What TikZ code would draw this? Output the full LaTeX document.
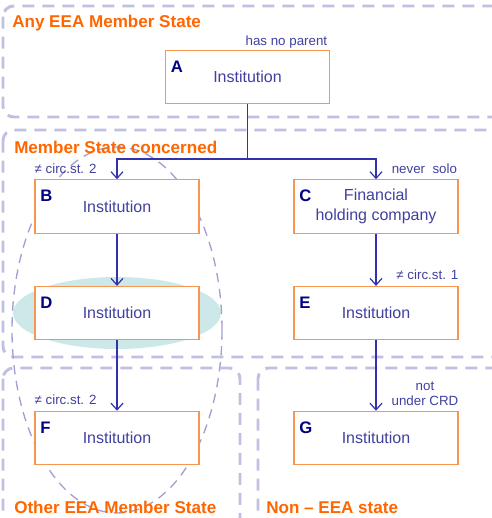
\documentclass[tikz,border=0pt]{standalone}
\usepackage{fontspec}
\setmainfont{Liberation Sans}
\usetikzlibrary{arrows.meta}

\definecolor{boxorange}{RGB}{247,150,80}
\definecolor{areaorange}{RGB}{255,102,0}
\definecolor{dashlav}{RGB}{192,192,226}
\definecolor{ovallav}{RGB}{160,160,210}
\definecolor{linkblue}{RGB}{50,50,170}
\definecolor{textblue}{RGB}{64,64,160}
\definecolor{letterblue}{RGB}{0,0,128}
\definecolor{groupteal}{RGB}{205,232,232}

\begin{document}
\begin{tikzpicture}[x=0.75pt, y=0.75pt, node distance=80pt,
    box/.style={rectangle, draw=boxorange, fill=white, line width=0.9pt, minimum width=123pt, minimum height=40pt, align=center, text=textblue, font=\fontsize{12}{15}\selectfont},
    tag/.style={anchor=base west, inner sep=0pt, text=letterblue, font=\fontsize{12.5}{14}\selectfont\bfseries},
    note/.style={inner sep=0pt, text=textblue, font=\fontsize{10}{11.5}\selectfont},
    area/.style={draw=dashlav, line width=2.2pt, dash pattern=on 9pt off 6pt, rounded corners=8pt},
    areaname/.style={anchor=west, inner sep=0pt, text=areaorange, font=\fontsize{12.8}{14}\selectfont\bfseries},
    link/.style={draw=linkblue, line width=0.9pt},
    arr/.style={link, -{Straight Barb[length=5pt, width=9pt, line width=0.9pt]}}]

  \useasboundingbox (0,0) rectangle (492,518);

  \begin{scope}
    \clip (0,0) rectangle (492,518);
    % state areas
    \draw[area] (3,512) rectangle (620,401);
    \draw[area] (3,388) rectangle (620,161);
    \draw[area] (3,150) rectangle (240,-90);
    \draw[area] (258,150) rectangle (620,-90);
    % group of B, D and F
    \fill[groupteal] (117,205) ellipse [x radius=104, y radius=36];
    \draw[draw=ovallav, line width=1pt, dash pattern=on 7pt off 5pt] (117,188) ellipse [x radius=105, y radius=183];
  \end{scope}

  \node[areaname] (any) at (12,495) {Any EEA Member State};
  \node[areaname] (concerned) at (14,371) {Member State concerned};
  \node[areaname] (other) at (14,11) {Other EEA Member State};
  \node[areaname] (noneea) at (266,10) {Non -- EEA state};

  \node[box] (A) at (247.5,441) {Institution};
  \node[box] (B) at (117,311.5) {Institution};
  \node[box] (C) at (376,311.5) {Financial\\holding company};
  \node[box] (D) [below of=B] {Institution};
  \node[box] (E) [below of=C] {Institution};
  \node[box] (F) at (117,80) {Institution};
  \node[box] (G) at (376,80) {Institution};

  \foreach \n in {A,B,C,D,E,F,G}
    \node[tag] at ([shift={(4.3pt,-17pt)}]\n.north west) {\n};

  \node[note, anchor=base east] (noparent) at ([shift={(-2pt,3pt)}]A.north east) {has no parent};
  \node[note, anchor=base west] (notB) at ([shift={(0pt,4pt)}]B.north west) {≠ circ.st. 2};
  \node[note, anchor=base east] (solo) at ([shift={(-1pt,4pt)}]C.north east) {never\ \ solo};
  \node[note, anchor=base east] (notE) at ([shift={(0pt,4.5pt)}]E.north east) {≠ circ.st. 1};
  \node[note, anchor=south east, align=center] (crd) at ([shift={(0pt,3.5pt)}]G.north east) {not\\under CRD};
  \node[note, anchor=base west] (notF) at ([shift={(0pt,4.5pt)}]F.north west) {≠ circ.st. 2};

  \coordinate (split) at (A.south |- 0,359);
  \draw[link] (A.south) -- (split);
  \draw[arr] (split) -| (B.north);
  \draw[arr] (split) -| (C.north);

  \path (B) edge[arr] (D)
        (D) edge[arr] (F)
        (C) edge[arr] (E)
        (E) edge[arr] (G);

\end{tikzpicture}
\end{document}
